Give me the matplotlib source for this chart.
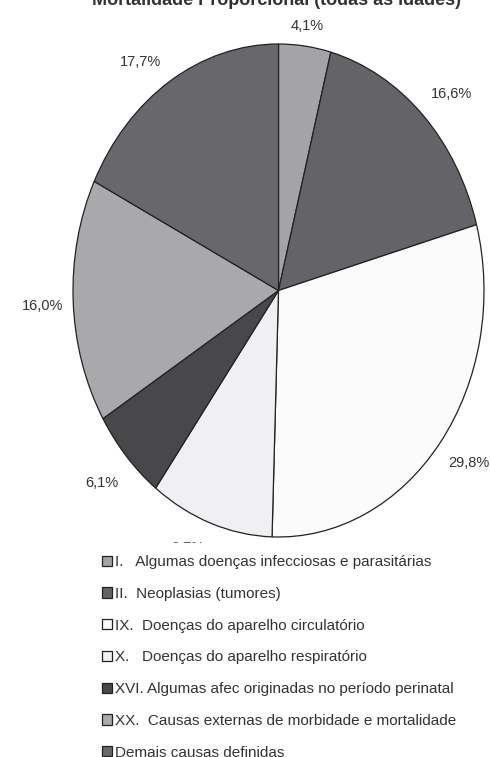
import matplotlib.pyplot as plt
import numpy as np

plt.rcParams['font.family'] = ['Liberation Sans', 'DejaVu Sans']

titulo = 'Mortalidade Proporcional (todas as idades)'
causas = ['I.   Algumas doenças infecciosas e parasitárias',
          'II.  Neoplasias (tumores)',
          'IX.  Doenças do aparelho circulatório',
          'X.   Doenças do aparelho respiratório',
          'XVI. Algumas afec originadas no período perinatal',
          'XX.  Causas externas de morbidade e mortalidade',
          'Demais causas definidas']
valores = [4.1, 16.6, 29.8, 9.7, 6.1, 16.0, 17.7]
cores = ['#a4a4a7', '#646468', '#fbfbfb', '#f0f0f2', '#48484a', '#a9a9ac', '#68686c']

W, H = 490, 757
fig = plt.figure(figsize=(W / 100, H / 100), dpi=100)

# ellipse-shaped pie: axes box = bounding box of the pie
ax = fig.add_axes([73 / W, (H - 537) / H, 411 / W, 493 / H])
wedges, texts, pct = ax.pie(valores, colors=cores, startangle=90, counterclock=False,
                            autopct=lambda p: ('%.1f%%' % p).replace('.', ','),
                            pctdistance=1.12,
                            wedgeprops=dict(edgecolor='#222222', linewidth=0.9),
                            textprops=dict(fontsize=10.5, color='#333333'))
ax.set_aspect('auto')
ax.set_xlim(-1, 1)
ax.set_ylim(-1, 1)

# label distance / angle shift per slice (excel puts them a bit irregularly)
dist = [1.08, 1.16, 1.16, 1.135, 1.16, 1.15, 1.145]
shift = [0, -2, 1, -3.5, 0, 0.7, 4]
for w, t, d, s in zip(wedges, pct, dist, shift):
    ang = np.deg2rad((w.theta1 + w.theta2) / 2 + s)
    t.set_position((d * np.cos(ang), d * np.sin(ang)))

# title is cut off at the top edge of the picture
fig.text(276 / W, 1 - 5 / H, titulo, ha='center', va='baseline',
         fontsize=13, fontweight='bold', color='#333333')

# legend box is white and hides most of the 9,7% label, like in the original
leg = fig.legend(wedges, causas, loc='upper left', bbox_to_anchor=(90 / W, 1 - 543 / H),
                 fontsize=11, borderaxespad=0, borderpad=0.8, labelspacing=1.16,
                 handlelength=0.65, handleheight=0.65, handletextpad=0.2,
                 frameon=True, fancybox=False, edgecolor='white', facecolor='white',
                 framealpha=1)
for t in leg.get_texts():
    t.set_color('#333333')

fig.savefig('out.png', dpi=100, facecolor='white')
